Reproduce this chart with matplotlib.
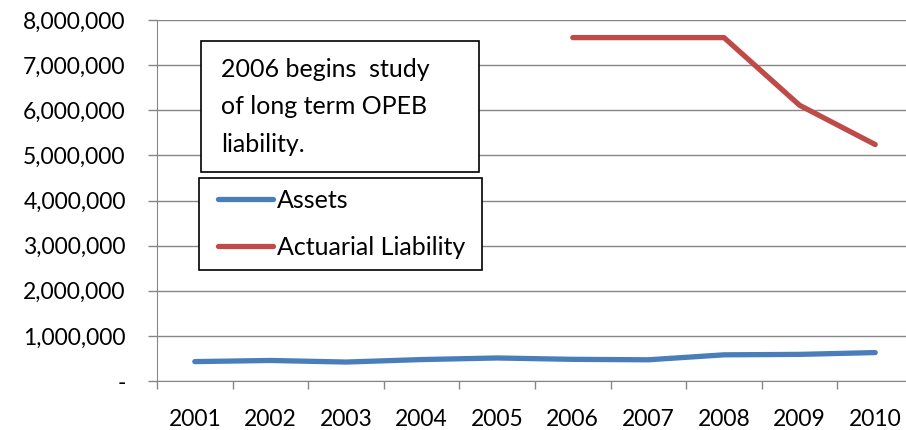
import matplotlib
matplotlib.use("Agg")
import matplotlib.pyplot as plt
from matplotlib.patches import Rectangle
from matplotlib.ticker import FuncFormatter, FixedLocator

years = ['2001', '2002', '2003', '2004', '2005', '2006', '2007', '2008', '2009', '2010']
assets = [430000, 455000, 420000, 475000, 510000, 480000, 470000, 580000, 590000, 630000]
liability = [None, None, None, None, None, 7610000, 7610000, 7610000, 6110000, 5240000]
note = "2006 begins  study\nof long term OPEB\nliability."

W, H = 906, 430
plt.rcParams['font.family'] = ['Lato', 'DejaVu Sans']
FS = 16.5
FS_BOX = 18
GRAY = '#868686'


def fx(px):
    return px / W


def fy(py):
    return 1 - py / H


fig = plt.figure(figsize=(W / 100, H / 100), dpi=100)
ax = fig.add_axes([fx(157), fy(381), 756 / W, (381 - 20) / H])

x = list(range(len(years)))
liab_x = [i for i, v in enumerate(liability) if v is not None]
liab_y = [v for v in liability if v is not None]
ax.plot(x, assets, color='#4A7EBB', lw=3.8, solid_capstyle='round', solid_joinstyle='round', label='Assets')
ax.plot(liab_x, liab_y, color='#BE4B48', lw=3.8, solid_capstyle='round', solid_joinstyle='round',
        label='Actuarial Liability')

ax.set_xlim(-0.5, len(years) - 0.5)
ax.set_ylim(0, 8000000)
ax.set_yticks(range(0, 8000001, 1000000))
ax.yaxis.set_major_formatter(FuncFormatter(lambda v, _: '-' if v == 0 else f'{v:,.0f}'))
ax.set_xticks(x)
ax.set_xticklabels(years)
ax.xaxis.set_minor_locator(FixedLocator([i - 0.5 for i in range(len(years) + 1)]))
ax.tick_params(axis='x', which='major', length=0, pad=20, labelsize=FS, colors='black')
ax.tick_params(axis='x', which='minor', length=6, width=1, color=GRAY)
ax.tick_params(axis='y', length=6.5, width=1, color=GRAY, pad=16, labelsize=FS, labelcolor='black')

ax.grid(axis='y', color=GRAY, lw=1)
ax.set_axisbelow(True)
for s in ['top', 'right']:
    ax.spines[s].set_visible(False)
ax.spines['left'].set_color(GRAY)
ax.spines['bottom'].set_color(GRAY)

# note box
fig.patches.append(Rectangle((fx(201), fy(172)), (479 - 201) / W, (172 - 41) / H, transform=fig.transFigure,
                             facecolor='white', edgecolor='black', lw=1.2, zorder=3))
fig.text(fx(221), fy(58), note, fontsize=FS_BOX, va='top', ha='left', linespacing=1.75, zorder=4)

# legend box
fig.patches.append(Rectangle((fx(199), fy(270)), (482 - 199) / W, (270 - 178) / H, transform=fig.transFigure,
                             facecolor='white', edgecolor='black', lw=1.2, zorder=3))
h, l = ax.get_legend_handles_labels()
leg = fig.legend(h, l, loc='upper left', bbox_to_anchor=(fx(218), fy(189)), frameon=False, fontsize=FS_BOX,
                 borderpad=0, borderaxespad=0, handlelength=2.2, handletextpad=0.16, labelspacing=0.95)
leg.set_zorder(5)

fig.savefig('out.png', dpi=100)
